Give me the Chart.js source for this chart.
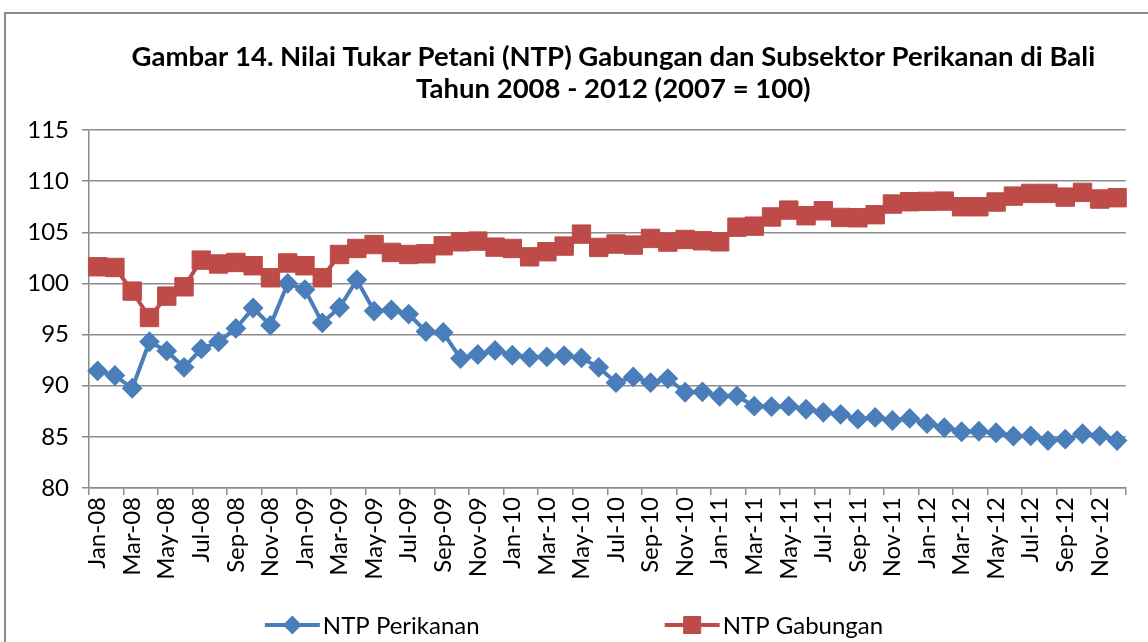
<!DOCTYPE html>
<html>
<head>
<meta charset="utf-8">
<title>NTP Bali 2008-2012</title>
<script src="https://cdn.jsdelivr.net/npm/chart.js@4.4.1/dist/chart.umd.min.js"></script>
<style>
  html, body { margin: 0; padding: 0; background: #fff; }
  #wrap { position: relative; width: 1148px; height: 642px; overflow: hidden; }
  #frame { position: absolute; left: 4px; top: 12px; width: 1200px; height: 700px; border: 2px solid #8c8c8c; }
  #chart { position: absolute; left: 0; top: 0; }
</style>
</head>
<body>
<div id="wrap">
  <div id="frame"></div>
  <canvas id="chart" width="1148" height="642"></canvas>
</div>
<script>
// ---- data ----
const monthNames = ['Jan', 'Feb', 'Mar', 'Apr', 'May', 'Jun', 'Jul', 'Aug', 'Sep', 'Oct', 'Nov', 'Dec'];
const yearTags   = ['08', '09', '10', '11', '12'];
const categories = [];
yearTags.forEach(y => monthNames.forEach(m => categories.push(m + '-' + y)));

const ntpPerikanan = [
  91.45, 91.0, 89.75, 94.3, 93.4, 91.8, 93.6, 94.3, 95.6, 97.6, 95.9, 100.0,
  99.4, 96.15, 97.65, 100.35, 97.3, 97.4, 97.0, 95.3, 95.2, 92.66, 93.05, 93.45,
  92.98, 92.76, 92.82, 92.95, 92.72, 91.8, 90.3, 90.86, 90.3, 90.7, 89.36, 89.4,
  88.97, 89.0, 88.0, 87.95, 88.0, 87.7, 87.4, 87.2, 86.73, 86.9, 86.6, 86.8,
  86.3, 85.9, 85.5, 85.55, 85.4, 85.07, 85.1, 84.64, 84.77, 85.3, 85.1, 84.64
];
const ntpGabungan = [
  101.63, 101.56, 99.25, 96.67, 98.76, 99.67, 102.28, 101.9, 102.05, 101.73, 100.55, 102.0,
  101.73, 100.55, 102.83, 103.42, 103.8, 103.03, 102.83, 102.9, 103.68, 104.07, 104.14, 103.55,
  103.42, 102.6, 103.1, 103.65, 104.82, 103.52, 103.85, 103.75, 104.4, 104.04, 104.3, 104.17,
  104.07, 105.5, 105.6, 106.5, 107.17, 106.62, 107.1, 106.45, 106.42, 106.72, 107.76, 107.99,
  108.02, 108.05, 107.5, 107.5, 107.96, 108.54, 108.8, 108.8, 108.44, 108.9, 108.25, 108.38
];
const yTicks = { min: 80, max: 115, step: 5 };
const titleLines = [
  'Gambar 14. Nilai Tukar Petani (NTP) Gabungan dan Subsektor Perikanan di Bali',
  'Tahun 2008 - 2012 (2007 = 100)'
];

// ---- style ----
const FONT = 'Lato, "Open Sans", sans-serif';
const BLUE = '#4A7EBB';
const RED  = '#BE4B48';
const GRID = '#8c8c8c';

// title + legend drawn on the canvas, spreadsheet style
const sheetDecor = {
  id: 'sheetDecor',
  afterDraw(chart) {
    const ctx = chart.ctx;
    const area = chart.chartArea;
    ctx.save();

    // title, centred over the plot area
    ctx.font = 'bold 27.5px ' + FONT;
    ctx.fillStyle = '#000';
    ctx.textAlign = 'center';
    ctx.textBaseline = 'middle';
    const cx = (area.left + area.right) / 2 + 6;
    titleLines.forEach((t, i) => ctx.fillText(t, cx, 57 + i * 32));

    // legend: line + marker per series
    const lineLen = 55, textGap = 3, itemGap = 185, y = 625;
    ctx.font = '24px ' + FONT;
    const items = chart.data.datasets.map(ds => ({ ds, w: ctx.measureText(ds.label).width }));
    const total = items.reduce((s, it) => s + lineLen + textGap + it.w, 0) + itemGap * (items.length - 1);
    let x = chart.width / 2 - total / 2;
    items.forEach(({ ds, w }) => {
      ctx.strokeStyle = ds.borderColor;
      ctx.lineWidth = ds.borderWidth;
      ctx.beginPath();
      ctx.moveTo(x, y);
      ctx.lineTo(x + lineLen, y);
      ctx.stroke();
      ctx.fillStyle = ds.pointBackgroundColor;
      ctx.strokeStyle = ds.pointBorderColor;
      ctx.lineWidth = ds.pointBorderWidth;
      Chart.helpers.drawPoint(ctx, {
        pointStyle: ds.pointStyle, radius: ds.pointRadius - 1,
        borderWidth: ds.pointBorderWidth, rotation: 0
      }, x + lineLen / 2, y);
      ctx.fillStyle = '#000';
      ctx.textAlign = 'left';
      ctx.textBaseline = 'middle';
      ctx.fillText(ds.label, x + lineLen + textGap, y + 1);
      x += lineLen + textGap + w + itemGap;
    });
    ctx.restore();
  }
};

const ctx = document.getElementById('chart').getContext('2d');
new Chart(ctx, {
  type: 'line',
  data: {
    labels: categories,
    datasets: [
      {
        label: 'NTP Perikanan',
        data: ntpPerikanan,
        borderColor: BLUE,
        backgroundColor: BLUE,
        borderWidth: 4,
        pointStyle: 'rectRot',
        pointRadius: 9,
        pointBorderWidth: 2,
        pointBackgroundColor: BLUE,
        pointBorderColor: BLUE,
        tension: 0,
        order: 1
      },
      {
        label: 'NTP Gabungan',
        data: ntpGabungan,
        borderColor: RED,
        backgroundColor: RED,
        borderWidth: 4,
        pointStyle: 'rect',
        pointRadius: 13,
        pointBorderWidth: 1,
        pointBackgroundColor: RED,
        pointBorderColor: RED,
        tension: 0,
        order: 0
      }
    ]
  },
  options: {
    responsive: false,
    animation: false,
    layout: { padding: { left: 0, right: 9, top: 130, bottom: 42 } },
    plugins: {
      legend: { display: false },
      tooltip: { enabled: false },
      title: { display: false }
    },
    scales: {
      x: {
        offset: true,
        grid: {
          offset: true,
          drawOnChartArea: false,
          tickLength: 7,
          lineWidth: 1.5,
          color: c => (c.type !== 'tick' || c.index % 2 === 0) ? GRID : 'rgba(0,0,0,0)'
        },
        border: { color: GRID, width: 1.5 },
        ticks: {
          autoSkip: false,
          minRotation: 90,
          maxRotation: 90,
          padding: 2,
          color: '#000',
          font: { family: FONT, size: 24 },
          callback: (v, i) => i % 2 === 0 ? categories[i] : ''
        },
        afterFit: s => { s.height = 112; }
      },
      y: {
        min: yTicks.min,
        max: yTicks.max,
        ticks: {
          stepSize: yTicks.step,
          padding: 13,
          color: '#000',
          font: { family: FONT, size: 24 }
        },
        grid: { color: GRID, lineWidth: 1.5, tickLength: 7 },
        border: { color: GRID, width: 1.5 },
        afterFit: s => { s.width = 89; }
      }
    }
  },
  plugins: [sheetDecor]
});
</script>
</body>
</html>
